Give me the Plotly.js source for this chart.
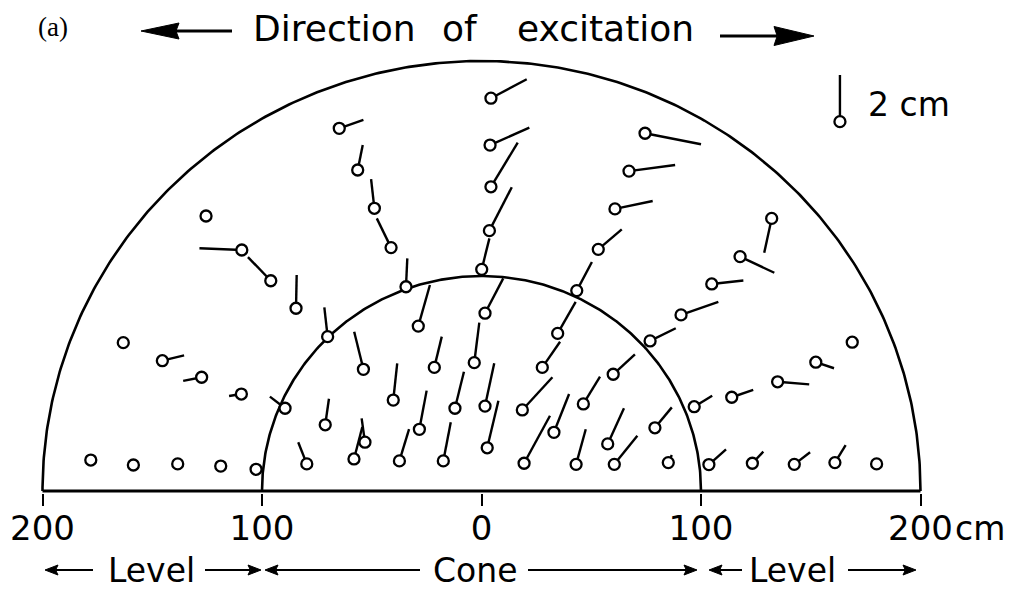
<!DOCTYPE html>
<html>
<head>
<meta charset="utf-8">
<script src="https://cdn.plot.ly/plotly-3.0.1.min.js"></script>
<style>
  html, body { margin: 0; padding: 0; background: #fff; }
  #chart { width: 1016px; height: 594px; }
</style>
</head>
<body>
<div id="chart"></div>
<script>
// Gauge positions (cm) in the plan view and the tip offset of each displacement arm
// (plot units; null = gauge with no measurable motion).
const pointX = [4.3, -64.8, 3.9, 74.5, -56.4, 4.3, 67.2, -48.8, -125.5, 60.8,
  132.2, -109.2, -41.2, 3.6, 53.2, 117.8, -96.0, -34.4, 0.1, 43.4,
  104.9, -84.5, -28.8, 1.6, 34.7, 90.9, -70.1, 76.8, -163.2, 168.9,
  -145.4, -53.8, -21.5, -3.3, 27.7, 60.0, 152.3, -127.5, 134.9, -109.4,
  114.0, -89.5, -40.2, -12.1, 1.6, 18.6, 46.4, 96.9, -71.2, -28.3,
  33.0, 79.0, -53.1, 2.6, 57.5, -178.0, -158.6, -138.4, -118.8, -102.7,
  -79.6, -58.1, -37.4, -17.4, 19.4, 43.1, 60.5, 85.1, 103.6, 123.4,
  142.5, 161.0, 180.0];
const pointY = [182.7, 168.7, 160.9, 166.4, 149.3, 141.5, 148.8, 131.5, 127.9, 131.2,
  126.8, 112.1, 113.2, 121.1, 112.4, 109.0, 97.8, 95.0, 103.1, 93.2,
  96.3, 85.0, 76.7, 82.7, 73.3, 81.9, 71.8, 69.8, 69.0, 69.2,
  60.6, 56.6, 57.5, 59.7, 57.5, 54.3, 59.9, 52.9, 50.8, 45.1,
  43.6, 38.5, 42.3, 38.5, 39.5, 37.7, 40.5, 39.2, 30.8, 28.7,
  27.3, 29.4, 22.7, 20.1, 21.9, 14.4, 12.1, 12.6, 11.6, 10.1,
  12.6, 14.9, 14.0, 14.0, 12.9, 12.4, 12.4, 13.2, 12.3, 12.9,
  12.4, 13.2, 12.6];
const tipDX = [16.3, 11.0, 17.9, 25.5, 2.3, 12.2, 21.0, -1.5, null, 17.2,
  -3.4, -19.3, -6.5, 10.2, 10.7, 15.6, -10.4, 0.6, 3.5, 6.9,
  14.4, 0.3, 5.3, 8.3, 8.2, 17.0, -1.5, 11.7, null, null,
  9.9, -4.2, 3.4, 2.3, 8.1, 9.9, 8.3, -8.4, 14.4, -5.6,
  9.8, -6.9, 1.8, 4.1, 4.2, 13.7, 7.6, 8.2, 1.7, 3.3,
  6.9, 7.7, -1.5, 5.1, 7.4, null, null, null, null, null,
  -3.9, 3.8, 4.4, 3.4, 11.8, 4.4, 10.5, 1.6, 7.8, 5.0,
  7.2, 4.9, null];
const tipDY = [8.8, 3.9, 8.1, -5.1, 11.6, 20.5, 2.8, 13.6, null, 3.7,
  -16.0, 0.8, 13.6, 20.2, 9.3, -7.5, 11.0, 13.2, 14.4, 13.3,
  1.6, 15.5, 19.1, 16.2, 14.7, 6.1, 13.6, 5.9, null, null,
  2.5, 17.5, 14.3, 18.6, 11.9, 9.3, -2.8, -1.7, -1.2, -0.9,
  3.4, 5.4, 17.1, 17.0, 19.9, 15.2, 12.7, 5.1, 12.1, 18.0,
  17.8, 9.5, 11.1, 21.9, 16.6, null, null, null, null, null,
  10.1, 14.9, 14.8, 18.0, 22.1, 16.3, 13.3, 3.5, 7.1, 5.4,
  5.6, 8.1, null];

// Scale arm: 2 cm of displacement
const scaleX = 163.3, scaleY = 171.8, scaleDY = 21.7;

// Zone radii (cm) and tick labels
const coneRadius = 100, levelRadius = 200;
const tickVals = [-200, -100, 0, 100, 200];
const tickText = ['200', '100', '0', '100', '200'];

const INK = '#000';
const FONT = 'DejaVu Sans, sans-serif';

// Semicircular zone boundaries
function arc(r) {
  const xs = [], ys = [];
  for (let i = 0; i <= 360; i++) {
    const a = Math.PI * i / 360;
    xs.push(r * Math.cos(a));
    ys.push(r * Math.sin(a));
  }
  return {x: xs, y: ys};
}
const outer = arc(levelRadius), inner = arc(coneRadius);

// Displacement arms as one broken line
const armX = [], armY = [];
pointX.forEach((x, i) => {
  if (tipDX[i] === null) return;
  armX.push(x, x + tipDX[i], null);
  armY.push(pointY[i], pointY[i] + tipDY[i], null);
});
armX.push(scaleX, scaleX, null);
armY.push(scaleY, scaleY + scaleDY, null);

const traces = [
  {x: outer.x, y: outer.y, mode: 'lines', line: {color: INK, width: 2.6}, hoverinfo: 'skip'},
  {x: inner.x, y: inner.y, mode: 'lines', line: {color: INK, width: 2.6}, hoverinfo: 'skip'},
  {x: [-levelRadius, levelRadius], y: [0, 0], mode: 'lines', line: {color: INK, width: 3.2}, hoverinfo: 'skip'},
  {x: armX, y: armY, mode: 'lines', line: {color: INK, width: 2.4}, hoverinfo: 'skip'},
  {x: pointX.concat([scaleX]), y: pointY.concat([scaleY]), mode: 'markers',
   marker: {symbol: 'circle', size: 11, color: '#fff', line: {color: INK, width: 2.3}},
   cliponaxis: false, hoverinfo: 'skip'}
];

// Page layout helpers: pixel position -> paper coordinates
const W = 1016, PLOT_H = 493;
const pgx = px => px / W;
const pgy = py => (PLOT_H - py) / PLOT_H;

function arrowShapes(tail, tip, y, headLen, half, width, notchFrac) {
  const dir = Math.sign(tip - tail);
  const back = tip - dir * headLen;
  const notch = tip - dir * headLen * (notchFrac || 0.82);
  return [
    {type: 'line', xref: 'paper', yref: 'paper',
     x0: pgx(tail), x1: pgx(notch), y0: pgy(y), y1: pgy(y),
     line: {color: INK, width: width}},
    {type: 'path', xref: 'paper', yref: 'paper', fillcolor: INK,
     line: {color: INK, width: 1},
     path: 'M' + pgx(tip) + ',' + pgy(y) +
           ' L' + pgx(back) + ',' + pgy(y - half) +
           ' L' + pgx(notch) + ',' + pgy(y) +
           ' L' + pgx(back) + ',' + pgy(y + half) + ' Z'}
  ];
}

const shapes = [].concat(
  arrowShapes(232, 141, 31, 38, 8, 3, 0.92),
  arrowShapes(720, 814, 36, 40, 9.5, 3, 0.92),
  arrowShapes(93, 45, 570, 13, 5, 2),
  arrowShapes(205, 261, 570, 13, 5, 2),
  arrowShapes(420, 265, 570, 13, 5, 2),
  arrowShapes(528, 697, 570, 13, 5, 2),
  arrowShapes(742, 709, 570, 13, 5, 2),
  arrowShapes(848, 916, 570, 13, 5, 2)
);

function label(text, px, py, size, anchor, family) {
  return {text: text, xref: 'paper', yref: 'paper', x: pgx(px), y: pgy(py),
          xanchor: anchor, yanchor: 'middle', showarrow: false,
          font: {family: family || FONT, size: size, color: INK}};
}

const annotations = [
  label('(a)', 53, 27, 27, 'center', 'Liberation Serif, serif'),
  label('Direction', 251, 28, 36, 'left'),
  label('of', 440, 28, 36, 'left'),
  label('excitation', 515, 28, 36, 'left'),
  label('2 cm', 866, 105, 33, 'left'),
  label('cm', 953, 528, 33, 'left'),
  label('Level', 151, 570, 33, 'center'),
  label('Cone', 474.5, 570, 33, 'center'),
  label('Level', 792.5, 570, 33, 'center')
];

const layout = {
  width: 1016, height: 594,
  margin: {l: 0, r: 0, t: 0, b: 101, pad: 0},
  paper_bgcolor: '#fff', plot_bgcolor: '#fff',
  showlegend: false,
  xaxis: {range: [-481.5 / 2.195, (1016 - 481.5) / 2.195], showgrid: false, zeroline: false,
          showline: false, ticks: 'outside', ticklen: 12, tickwidth: 2, tickcolor: INK,
          tickvals: tickVals, ticktext: tickText, ticklabelstandoff: -7,
          tickfont: {family: FONT, size: 34, color: INK}, fixedrange: true},
  yaxis: {range: [-2 / 2.15, 491 / 2.15], visible: false, showgrid: false, zeroline: false, fixedrange: true},
  shapes: shapes,
  annotations: annotations
};

Plotly.newPlot('chart', traces, layout, {staticPlot: true, displayModeBar: false});
</script>
</body>
</html>
